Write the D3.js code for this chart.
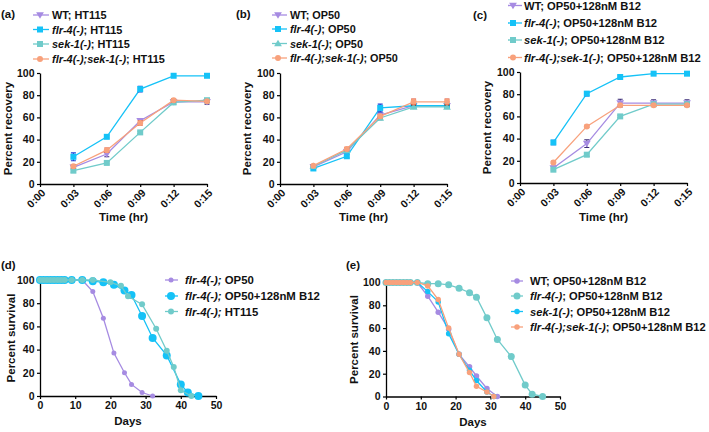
<!DOCTYPE html>
<html><head><meta charset="utf-8">
<script src="https://cdn.jsdelivr.net/npm/d3@7"></script>
<style>
body{margin:0;background:#fff}
svg{font-family:Arial,"Liberation Sans",Helvetica,sans-serif}
</style>
</head><body>
<svg id="chart" width="709" height="432"></svg>
<script>
// ---------- shared ticks ----------
const timeTicks = [0, 3, 6, 9, 12, 15];
const timeLabels = ["0:00", "0:03", "0:06", "0:09", "0:12", "0:15"];
const timePoints = [3, 6, 9, 12, 15];
const pctTicks = [0, 20, 40, 60, 80, 100];
const dayTicks = [0, 10, 20, 30, 40, 50];

// ---------- panel (a): HT115 recovery ----------
const aNames = [["", "WT; HT115"], ["flr-4(-)", "; HT115"], ["sek-1(-)", "; HT115"], ["flr-4(-);sek-1(-)", "; HT115"]];
const aWT = [15, 27, 57, 74, 74];
const aWTErr = [2, 2.5, 2, 2, 2];
const aFlr = [24.5, 42.5, 85.5, 97.5, 97.5];
const aFlrErr = [3.5, 1, 2.5, 1.5, 1.5];
const aSek = [12, 19, 46.5, 73.5, 75.5];
const aSekErr = [1.5, 1, 1, 1.5, 1.5];
const aDbl = [16, 30.5, 55, 75.5, 74.5];
const aDblErr = [1.5, 2, 2, 1.5, 1];

// ---------- panel (b): OP50 recovery ----------
const bNames = [["", "WT; OP50"], ["flr-4(-)", "; OP50"], ["sek-1(-)", "; OP50"], ["flr-4(-);sek-1(-)", "; OP50"]];
const bWT = [15.5, 29, 62, 70.5, 70.5];
const bWTErr = [1.5, 2, 2, 2, 2];
const bFlr = [14, 25, 68.5, 70.5, 70.5];
const bFlrErr = [1.5, 1.5, 3.5, 1.5, 1.5];
const bSek = [16, 30.5, 59.5, 69.5, 69.5];
const bSekErr = [1, 1.5, 1.5, 1.5, 1.5];
const bDbl = [16.5, 31.5, 61, 74, 74];
const bDblErr = [1, 1.5, 1.5, 2.5, 2.5];

// ---------- panel (c): OP50+B12 recovery ----------
const cNames = [["", "WT; OP50+128nM B12"], ["flr-4(-)", "; OP50+128nM B12"], ["sek-1(-)", "; OP50+128nM B12"], ["flr-4(-);sek-1(-)", "; OP50+128nM B12"]];
const cWT = [13.5, 35.5, 72, 72, 72];
const cWTErr = [1.5, 3.5, 3.5, 3, 3];
const cFlr = [36.5, 80.5, 95.5, 98.5, 98.5];
const cFlrErr = [2, 2, 1, 1, 1];
const cSek = [12, 25.5, 60, 71, 71];
const cSekErr = [1, 1.5, 1, 1.5, 1.5];
const cDbl = [18.5, 51, 70, 70, 70];
const cDblErr = [1, 1, 1, 1, 1];

// ---------- panel (d): flr-4 survival ----------
const dNames = [["flr-4(-);", " OP50"], ["flr-4(-);", " OP50+128nM B12"], ["flr-4(-);", " HT115"]];
const dOP50Days = [0, 1, 2, 3, 4, 5, 6, 7, 9, 12, 15, 18, 21, 24, 26, 29, 32];
const dOP50Surv = [100, 100, 100, 100, 100, 100, 100, 100, 100, 100, 90, 67, 37, 20, 10, 3, 0];
const dB12Days = [0, 1, 2, 3, 4, 5, 6, 7, 9, 12, 15, 18, 21, 24, 26, 29, 32, 36, 40, 42, 45];
const dB12Surv = [100, 100, 100, 100, 100, 100, 100, 100, 100, 100, 99, 98, 96, 91, 87, 69, 50, 35, 10, 3, 0];
const dHTDays = [0, 1, 2, 3, 4, 5, 6, 7, 9, 12, 15, 20, 23, 25, 29, 33, 36, 38, 40, 43];
const dHTSurv = [100, 100, 100, 100, 100, 100, 100, 100, 100, 100, 100, 98, 95, 86, 79, 58, 39, 25, 5, 0];

// ---------- panel (e): OP50+B12 survival ----------
const eNames = [["", "WT; OP50+128nM B12"], ["flr-4(-)", "; OP50+128nM B12"], ["sek-1(-)", "; OP50+128nM B12"], ["flr-4(-);sek-1(-)", "; OP50+128nM B12"]];
const eWTDays = [0, 1, 2, 3, 4, 5, 6, 7, 9, 12, 15, 18, 21, 24, 26, 29, 32];
const eWTSurv = [100, 100, 100, 100, 100, 100, 100, 100, 100, 88, 74, 59, 37, 26, 18, 7, 0];
const eFlrDays = [0, 1, 2, 3, 4, 5, 6, 7, 9, 12, 15, 18, 21, 24, 26, 29, 32, 36, 40, 42, 45];
const eFlrSurv = [100, 100, 100, 100, 100, 100, 100, 100, 100, 99, 99, 98, 95, 91, 87, 69, 50, 35, 10, 2, 0];
const eSekDays = [0, 1, 2, 3, 4, 5, 6, 7, 9, 12, 15, 18, 21, 24, 26, 29, 31];
const eSekSurv = [100, 100, 100, 100, 100, 100, 100, 100, 100, 92, 83, 55, 37, 23, 14, 4, 0];
const eDblDays = [0, 1, 2, 3, 4, 5, 6, 7, 9, 12, 15, 18, 21, 24, 26, 29, 31];
const eDblSurv = [100, 100, 100, 100, 100, 100, 100, 100, 100, 97, 85, 60, 37, 21, 9, 4, 0];

// ---------- styles ----------
const PURPLE = "#a68be2", BLUE = "#15c2f7", TEAL = "#70cbca", ORANGE = "#f8a17c";
const PURPLE_E = "#3c2c78", BLUE_E = "#1d3fd6", TEAL_E = "#27454f", ORANGE_E = "#e0482a";
const FS_TICK = 10.5, FS_LEG = 11, FS_TITLE = 11.5, FS_LABEL = 11.5;

const svg = d3.select("#chart");

function drawMarker(g, shape, x, y, s, color) {
  if (shape === "circle") {
    g.append("circle").attr("cx", x).attr("cy", y).attr("r", s / 2).attr("fill", color);
  } else if (shape === "square") {
    g.append("rect").attr("x", x - s / 2).attr("y", y - s / 2).attr("width", s).attr("height", s).attr("fill", color);
  } else {
    const h = s * 0.95, w = s * 0.6;
    const p = shape === "tri"
      ? `M${x},${y - h * 0.6}L${x + w},${y + h * 0.45}L${x - w},${y + h * 0.45}Z`
      : `M${x},${y + h * 0.6}L${x + w},${y - h * 0.45}L${x - w},${y - h * 0.45}Z`;
    g.append("path").attr("d", p).attr("fill", color);
  }
}

function drawPanel(o) {
  const g = svg.append("g");
  const x = d3.scaleLinear().domain(o.xDomain).range([o.px0, o.px1]);
  const y = d3.scaleLinear().domain([0, 100]).range([o.py0, o.py1]);

  const ya = g.append("g").attr("transform", `translate(${o.px0},0)`)
    .call(d3.axisLeft(y).tickValues(pctTicks).tickSize(3).tickSizeOuter(0).tickPadding(2.5));
  const xa = g.append("g").attr("transform", `translate(0,${o.py0})`)
    .call(d3.axisBottom(x).tickValues(o.xTicks).tickSize(3).tickSizeOuter(0).tickPadding(3)
      .tickFormat((d, i) => o.xLabels[i]));
  [ya, xa].forEach(a => {
    a.select(".domain").attr("stroke", "#000").attr("stroke-width", 1.3);
    a.selectAll(".tick line").attr("stroke", "#000").attr("stroke-width", 1.2);
    a.selectAll("text").attr("font-family", "Arial, 'Liberation Sans', sans-serif")
      .attr("font-size", FS_TICK).attr("font-weight", "bold").attr("fill", "#111");
  });
  if (o.rotate) {
    xa.selectAll(".tick text").attr("y", 0).attr("x", 0).attr("dy", "0.35em")
      .attr("transform", "translate(3,7) rotate(-45)").style("text-anchor", "end");
  }

  o.series.forEach(s => {
    const pts = s.xs.map((d, i) => [x(d), y(s.ys[i])]);
    g.append("path").attr("d", d3.line()(pts)).attr("fill", "none")
      .attr("stroke", s.color).attr("stroke-width", 1.3);
    if (s.errs) {
      s.xs.forEach((d, i) => {
        const cx = x(d), ya1 = y(s.ys[i] + s.errs[i]), ya2 = y(s.ys[i] - s.errs[i]);
        g.append("path").attr("d", `M${cx},${ya1}V${ya2}M${cx - 2.5},${ya1}H${cx + 2.5}M${cx - 2.5},${ya2}H${cx + 2.5}`)
          .attr("stroke", s.errColor).attr("stroke-width", 1.1).attr("fill", "none");
      });
    }
    pts.forEach(p => drawMarker(g, s.shape, p[0], p[1], s.size, s.color));
  });

  // legend, font sized so the widest row spans the reference width
  const texts = [];
  o.series.forEach((s, i) => {
    const ly = o.leg.rows[i];
    g.append("line").attr("x1", o.leg.l0).attr("x2", o.leg.l1).attr("y1", ly).attr("y2", ly)
      .attr("stroke", s.color).attr("stroke-width", 1.3);
    drawMarker(g, s.shape, o.leg.m, ly, s.size, s.color);
    const t = g.append("text").attr("x", o.leg.t).attr("y", ly + 4)
      .attr("font-size", FS_LEG).attr("font-weight", "bold").attr("fill", "#111");
    if (o.names[i][0]) t.append("tspan").attr("font-style", "italic").text(o.names[i][0]);
    t.append("tspan").text(o.names[i][1]);
    texts.push(t);
  });
  const maxW = d3.max(texts, t => t.node().getComputedTextLength());
  if (maxW > 0) {
    const fs = Math.max(9, Math.min(13, FS_LEG * o.leg.w / maxW));
    texts.forEach(t => t.attr("font-size", fs));
  }

  g.append("text").attr("transform", `translate(${o.yTitleX},${(o.py0 + o.py1) / 2}) rotate(-90)`)
    .attr("text-anchor", "middle").attr("font-size", FS_TITLE).attr("font-weight", "bold").attr("fill", "#111")
    .text(o.yTitle);
  g.append("text").attr("x", (o.px0 + o.px1) / 2).attr("y", o.xTitleY)
    .attr("text-anchor", "middle").attr("font-size", FS_TITLE).attr("font-weight", "bold").attr("fill", "#111")
    .text(o.xTitle);
  g.append("text").attr("x", o.labelX).attr("y", o.labelY)
    .attr("font-size", FS_LABEL).attr("font-weight", "bold").attr("fill", "#111").text(o.label);
}

function recSeries(wt, wte, flr, flre, sek, seke, dbl, dble, sekShape) {
  return [
    { xs: timePoints, ys: wt, errs: wte, color: PURPLE, errColor: PURPLE_E, shape: "triDown", size: 6.5 },
    { xs: timePoints, ys: flr, errs: flre, color: BLUE, errColor: BLUE_E, shape: "square", size: 6 },
    { xs: timePoints, ys: sek, errs: seke, color: TEAL, errColor: TEAL_E, shape: sekShape, size: sekShape === "tri" ? 6.5 : 6 },
    { xs: timePoints, ys: dbl, errs: dble, color: ORANGE, errColor: ORANGE_E, shape: "circle", size: 6 }
  ];
}

drawPanel({
  px0: 40, px1: 207, py0: 184, py1: 73, xDomain: [0, 15], xTicks: timeTicks, xLabels: timeLabels, rotate: true,
  series: recSeries(aWT, aWTErr, aFlr, aFlrErr, aSek, aSekErr, aDbl, aDblErr, "square"),
  names: aNames, leg: { l0: 33, l1: 49, m: 40, t: 52, w: 113, rows: [15, 29.5, 44, 59] },
  yTitle: "Percent recovery", yTitleX: 12, xTitle: "Time (hr)", xTitleY: 221, label: "(a)", labelX: 1, labelY: 18
});
drawPanel({
  px0: 280, px1: 447, py0: 184, py1: 73, xDomain: [0, 15], xTicks: timeTicks, xLabels: timeLabels, rotate: true,
  series: recSeries(bWT, bWTErr, bFlr, bFlrErr, bSek, bSekErr, bDbl, bDblErr, "tri"),
  names: bNames, leg: { l0: 272, l1: 287, m: 278, t: 290, w: 108, rows: [15, 29, 43.5, 58] },
  yTitle: "Percent recovery", yTitleX: 251, xTitle: "Time (hr)", xTitleY: 221, label: "(b)", labelX: 236, labelY: 18
});
drawPanel({
  px0: 520, px1: 687, py0: 183, py1: 72, xDomain: [0, 15], xTicks: timeTicks, xLabels: timeLabels, rotate: true,
  series: recSeries(cWT, cWTErr, cFlr, cFlrErr, cSek, cSekErr, cDbl, cDblErr, "square"),
  names: cNames, leg: { l0: 508, l1: 522, m: 513, t: 524, w: 177, rows: [5.5, 23, 40, 57.5] },
  yTitle: "Percent recovery", yTitleX: 491, xTitle: "Time (hr)", xTitleY: 221, label: "(c)", labelX: 473, labelY: 19
});
drawPanel({
  px0: 40, px1: 216, py0: 396, py1: 280, xDomain: [0, 50], xTicks: dayTicks, xLabels: dayTicks.map(String), rotate: false,
  series: [
    { xs: dOP50Days, ys: dOP50Surv, color: PURPLE, shape: "circle", size: 5 },
    { xs: dB12Days, ys: dB12Surv, color: BLUE, shape: "circle", size: 8 },
    { xs: dHTDays, ys: dHTSurv, color: TEAL, shape: "circle", size: 6 }
  ],
  names: dNames, leg: { l0: 165, l1: 178, m: 171, t: 185, w: 135, rows: [280, 296, 311.5] },
  yTitle: "Percent survival", yTitleX: 15, xTitle: "Days", xTitleY: 425, label: "(d)", labelX: 1, labelY: 269
});
drawPanel({
  px0: 386, px1: 560, py0: 396.5, py1: 282.5, xDomain: [0, 50], xTicks: dayTicks, xLabels: dayTicks.map(String), rotate: false,
  series: [
    { xs: eWTDays, ys: eWTSurv, color: PURPLE, shape: "circle", size: 5.5 },
    { xs: eFlrDays, ys: eFlrSurv, color: TEAL, shape: "circle", size: 7 },
    { xs: eSekDays, ys: eSekSurv, color: BLUE, shape: "circle", size: 5.5 },
    { xs: eDblDays, ys: eDblSurv, color: ORANGE, shape: "circle", size: 5.5 }
  ],
  names: eNames, leg: { l0: 511, l1: 523, m: 517, t: 530, w: 176, rows: [281, 296, 311.5, 327] },
  yTitle: "Percent survival", yTitleX: 358, xTitle: "Days", xTitleY: 426, label: "(e)", labelX: 346, labelY: 269
});
</script>
</body></html>
